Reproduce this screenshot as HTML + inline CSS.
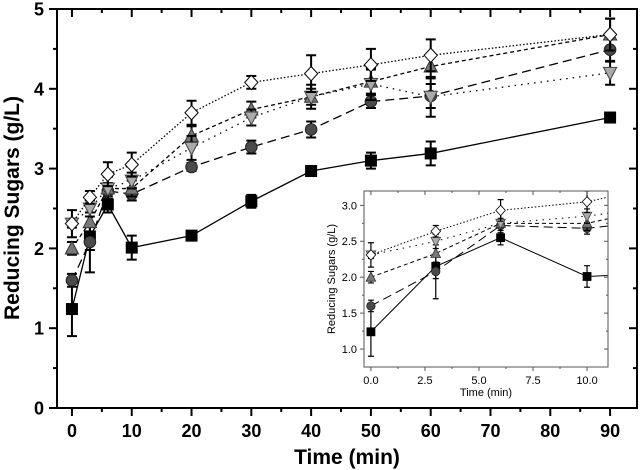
<!DOCTYPE html>
<html><head><meta charset="utf-8"><style>
body{margin:0;background:#fff;}
svg{display:block;font-family:"Liberation Sans",Arial,sans-serif;}
</style></head><body>
<svg id="chart" width="640" height="470" viewBox="0 0 640 470"></svg>
<script>
const times=[0,3,6,10,20,30,40,50,60,90];
const seriesSquare=[1.24,2.15,2.55,2.01,2.16,2.59,2.97,3.10,3.19,3.64];
const errSquare=[0.34,0.45,0.1,0.15,0.04,0.08,0.06,0.1,0.15,0.05];
const seriesCircle=[1.6,2.08,2.72,2.68,3.02,3.27,3.49,3.84,3.91,4.49];
const errCircle=[0.08,0.1,0.1,0.08,0.05,0.08,0.1,0.08,0.15,0.15];
const seriesUp=[2.0,2.33,2.75,2.75,3.41,3.74,3.9,4.09,4.28,4.68];
const errUp=[0.08,0.12,0.15,0.1,0.12,0.1,0.1,0.15,0.15,0.2];
const seriesDown=[2.31,2.5,2.75,2.85,3.26,3.64,3.9,4.06,3.9,4.2];
const errDown=[0.05,0.1,0.15,0.1,0.15,0.1,0.15,0.2,0.25,0.15];
const seriesDiamond=[2.31,2.64,2.93,3.05,3.7,4.08,4.19,4.3,4.42,4.68];
const errDiamond=[0.17,0.08,0.15,0.15,0.15,0.08,0.23,0.2,0.2,0.2];
const xTicks=[0,10,20,30,40,50,60,70,80,90];
const yTicks=[0,1,2,3,4,5];
const insetXTicks=[0,2.5,5,7.5,10];
const insetYTicks=[1,1.5,2,2.5,3];

const NS="http://www.w3.org/2000/svg";
const svg=document.getElementById('chart');
function mk(tag,attrs,parent){const e=document.createElementNS(NS,tag);for(const k in attrs)e.setAttribute(k,attrs[k]);(parent||svg).appendChild(e);return e;}

const series=[
 {name:'square',v:seriesSquare,e:errSquare,fill:'#000',dash:'',shape:'square'},
 {name:'circle',v:seriesCircle,e:errCircle,fill:'#4a4a4a',dash:'9,5',shape:'circle'},
 {name:'triangle-up',v:seriesUp,e:errUp,fill:'#777',dash:'4,3',shape:'up'},
 {name:'triangle-down',v:seriesDown,e:errDown,fill:'#aaa',dash:'1.5,5',shape:'down'},
 {name:'diamond',v:seriesDiamond,e:errDiamond,fill:'#fff',dash:'1.5,2',shape:'diamond'}
];

function drawMarker(g,shape,cx,cy,s,fill,sw){
 let el;
 if(shape==='square')el=mk('rect',{x:cx-s,y:cy-s,width:2*s,height:2*s,fill:fill,stroke:'#000','stroke-width':sw},g);
 else if(shape==='circle')el=mk('circle',{cx:cx,cy:cy,r:s*1.05,fill:fill,stroke:'#222','stroke-width':sw},g);
 else if(shape==='up')el=mk('polygon',{points:`${cx},${cy-s*1.3} ${cx-s*1.2},${cy+s} ${cx+s*1.2},${cy+s}`,fill:fill,stroke:'#333','stroke-width':sw},g);
 else if(shape==='down')el=mk('polygon',{points:`${cx},${cy+s*1.3} ${cx-s*1.2},${cy-s} ${cx+s*1.2},${cy-s}`,fill:fill,stroke:'#444','stroke-width':sw},g);
 else el=mk('polygon',{points:`${cx},${cy-s*1.3} ${cx+s*1.2},${cy} ${cx},${cy+s*1.3} ${cx-s*1.2},${cy}`,fill:fill,stroke:'#000','stroke-width':sw},g);
 return el;
}

function drawPlot(cfg){
 const {x0,x1,y0,y1,xmin,xmax,ymin,ymax,xt,yt,fs,lw,ms,cap,ew,nPts,prefix,fmtX,fmtY,minorX,minorY,tickLen,labelBold}=cfg;
 const X=v=>x0+(v-xmin)/(xmax-xmin)*(x1-x0);
 const Y=v=>y1-(v-ymin)/(ymax-ymin)*(y1-y0);
 const clipId=prefix+'-clip';
 const defs=mk('defs',{});
 const cp=mk('clipPath',{id:clipId},defs);
 mk('rect',{x:x0,y:y0,width:x1-x0,height:y1-y0},cp);
 const bg=mk('rect',{x:x0,y:y0,width:x1-x0,height:y1-y0,fill:'#fff',stroke:'none'});
 
 
 const plot=mk('g',{'clip-path':`url(#${clipId})`});
 
 
 series.forEach(s=>{
  const g=mk('g',{},plot);
  
  
  const n=Math.min(nPts,times.length);
  const pts=[];for(let i=0;i<n;i++)pts.push(X(times[i])+','+Y(s.v[i]));
  const ln=mk('polyline',{points:pts.join(' '),fill:'none',stroke:'#000','stroke-width':lw,'stroke-dasharray':s.dash},g);
  
  
  for(let i=0;i<n;i++){
   const cx=X(times[i]);
   const eb=mk('path',{d:`M${cx},${Y(s.v[i]-s.e[i])}V${Y(s.v[i]+s.e[i])}M${cx-cap},${Y(s.v[i]-s.e[i])}h${2*cap}M${cx-cap},${Y(s.v[i]+s.e[i])}h${2*cap}`,stroke:'#000','stroke-width':ew,fill:'none'},g);
   
   
  }
  for(let i=0;i<n;i++){
   const m=drawMarker(g,s.shape,X(times[i]),Y(s.v[i]),ms,s.fill,cfg.msw);
   
   
  }
 });
 const fr=mk('rect',{x:x0,y:y0,width:x1-x0,height:y1-y0,fill:'none',stroke:cfg.frameColor,'stroke-width':cfg.frameW});
 
 
 const ax=mk('g',{});
 
 
 const tc=cfg.frameColor;
 xt.forEach(v=>{
  const x=X(v);
  mk('line',{x1:x,x2:x,y1:y1,y2:y1+tickLen,stroke:tc,'stroke-width':cfg.frameW},ax);
  mk('line',{x1:x,x2:x,y1:y0,y2:y0+tickLen,stroke:tc,'stroke-width':cfg.frameW},ax);
  const t=mk('text',{x:x,y:cfg.xLabelY,'font-size':fs,'font-weight':labelBold?'bold':'normal','text-anchor':'middle',fill:'#000'},ax);
  t.textContent=fmtX(v);
  
  
 });
 minorX.forEach(v=>{const x=X(v);mk('line',{x1:x,x2:x,y1:y1,y2:y1+tickLen/2,stroke:tc,'stroke-width':cfg.frameW},ax);mk('line',{x1:x,x2:x,y1:y0,y2:y0+tickLen/2,stroke:tc,'stroke-width':cfg.frameW},ax);});
 const ay=mk('g',{});
 
 
 yt.forEach(v=>{
  const y=Y(v);
  mk('line',{x1:x0-tickLen,x2:x0,y1:y,y2:y,stroke:tc,'stroke-width':cfg.frameW},ay);
  mk('line',{x1:x1,x2:x1-tickLen,y1:y,y2:y,stroke:tc,'stroke-width':cfg.frameW},ay);
  const t=mk('text',{x:cfg.yLabelX,y:y+fs*0.36,'font-size':fs,'font-weight':labelBold?'bold':'normal','text-anchor':'end',fill:'#000'},ay);
  t.textContent=fmtY(v);
  
  
 });
 minorY.forEach(v=>{const y=Y(v);mk('line',{x1:x0-tickLen/2,x2:x0,y1:y,y2:y,stroke:tc,'stroke-width':cfg.frameW},ay);mk('line',{x1:x1,x2:x1-tickLen/2,y1:y,y2:y,stroke:tc,'stroke-width':cfg.frameW},ay);});
 return {X,Y};
}

drawPlot({prefix:'main',x0:57,x1:637,y0:9,y1:408,xmin:-2.5,xmax:94.5,ymin:0,ymax:5,xt:xTicks,yt:yTicks,
 fs:18,lw:1.3,ms:5.5,msw:1,cap:5,ew:2,nPts:10,fmtX:v=>String(v),fmtY:v=>String(v),
 minorX:[5,15,25,35,45,55,65,75,85],minorY:[0.5,1.5,2.5,3.5,4.5],tickLen:8,labelBold:true,frameColor:'#000',frameW:2,
 xLabelY:437,yLabelX:44});

drawPlot({prefix:'inset',x0:364,x1:608,y0:191,y1:367,xmin:-0.32,xmax:10.97,ymin:0.75,ymax:3.2,xt:insetXTicks,yt:insetYTicks,
 fs:11,lw:1,ms:4,msw:0.8,cap:3,ew:1.2,nPts:5,fmtX:v=>v.toFixed(1),fmtY:v=>v.toFixed(1),
 minorX:[1.25,3.75,6.25,8.75],minorY:[1.25,1.75,2.25,2.75],tickLen:4,labelBold:false,frameColor:'#555',frameW:1,
 xLabelY:384,yLabelX:357});

const xl=mk('text',{x:347,y:464,'font-size':21,'font-weight':'bold','text-anchor':'middle'});
xl.textContent='Time (min)';


const yl=mk('text',{x:0,y:0,'font-size':21,'font-weight':'bold','text-anchor':'middle',transform:'translate(19,208) rotate(-90)'});
yl.textContent='Reducing Sugars (g/L)';


const ixl=mk('text',{x:486,y:396,'font-size':11,'text-anchor':'middle'});
ixl.textContent='Time (min)';


const iyl=mk('text',{x:0,y:0,'font-size':11,'text-anchor':'middle',transform:'translate(335,279) rotate(-90)'});
iyl.textContent='Reducing Sugars (g/L)';


</script>
</body></html>
